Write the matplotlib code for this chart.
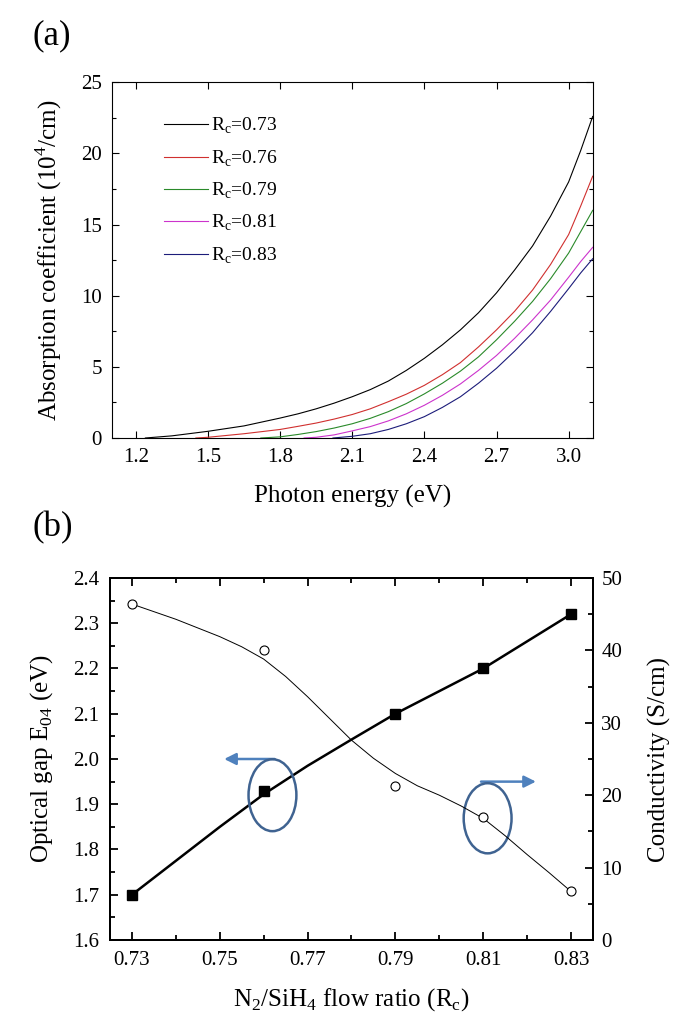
import matplotlib
matplotlib.use("Agg")
import matplotlib.pyplot as plt
from matplotlib.patches import Ellipse
from matplotlib.ticker import MultipleLocator
import numpy as np

plt.rcParams['font.family'] = ['Liberation Serif', 'DejaVu Serif']
plt.rcParams['mathtext.fontset'] = 'custom'
plt.rcParams['mathtext.rm'] = 'Liberation Serif'

# (a) absorption spectra
e_073 = [1.24, 1.35, 1.5, 1.65, 1.8, 1.875, 1.95, 2.025, 2.1, 2.175, 2.25, 2.325, 2.4,
         2.475, 2.55, 2.625, 2.7, 2.775, 2.85, 2.925, 3.0, 3.05, 3.1]
a_073 = [0, 0.15, 0.47, 0.85, 1.4, 1.7, 2.05, 2.45, 2.9, 3.4, 4.0, 4.75, 5.6,
         6.55, 7.6, 8.8, 10.2, 11.8, 13.5, 15.6, 18.0, 20.2, 22.6]
e_076 = [1.45, 1.5, 1.65, 1.8, 1.875, 1.95, 2.025, 2.1, 2.175, 2.25, 2.325, 2.4,
         2.475, 2.55, 2.625, 2.7, 2.775, 2.85, 2.925, 3.0, 3.05, 3.1]
a_076 = [0, 0.05, 0.3, 0.6, 0.82, 1.05, 1.33, 1.65, 2.05, 2.55, 3.08, 3.7,
         4.45, 5.3, 6.4, 7.6, 8.9, 10.4, 12.2, 14.3, 16.3, 18.4]
e_079 = [1.72, 1.8, 1.875, 1.95, 2.025, 2.1, 2.175, 2.25, 2.325, 2.4, 2.475, 2.55,
         2.625, 2.7, 2.775, 2.85, 2.925, 3.0, 3.05, 3.1]
a_079 = [0, 0.08, 0.25, 0.45, 0.7, 1.0, 1.38, 1.85, 2.42, 3.1, 3.85, 4.7,
         5.7, 6.9, 8.2, 9.6, 11.2, 13.0, 14.5, 16.0]
e_081 = [1.9, 1.95, 2.025, 2.1, 2.175, 2.25, 2.325, 2.4, 2.475, 2.55, 2.625, 2.7,
         2.775, 2.85, 2.925, 3.0, 3.05, 3.1]
a_081 = [0, 0.05, 0.22, 0.5, 0.8, 1.2, 1.7, 2.3, 3.0, 3.8, 4.75, 5.8,
         7.0, 8.3, 9.7, 11.3, 12.4, 13.4]
e_083 = [2.02, 2.1, 2.175, 2.25, 2.325, 2.4, 2.475, 2.55, 2.625, 2.7, 2.775, 2.85,
         2.925, 3.0, 3.05, 3.1]
a_083 = [0, 0.12, 0.3, 0.6, 1.0, 1.5, 2.15, 2.9, 3.85, 4.9, 6.1, 7.4,
         8.9, 10.5, 11.6, 12.6]
energies = [e_073, e_076, e_079, e_081, e_083]
spectra = [a_073, a_076, a_079, a_081, a_083]
labels_a = ['0.73', '0.76', '0.79', '0.81', '0.83']
colors_a = ['black', '#d0302f', '#2a8a2a', '#cc33cc', '#1c1c7a']

# (b) optical gap and conductivity vs flow ratio
ratio = [0.73, 0.76, 0.79, 0.81, 0.83]
gap = [1.70, 1.93, 2.10, 2.20, 2.32]
cond = [46.4, 40.0, 21.3, 17.0, 6.7]
# fit curves as drawn in the figure
gap_fit_x = [0.73, 0.74, 0.75, 0.76, 0.77, 0.78, 0.79, 0.80, 0.81, 0.82, 0.83]
gap_fit = [1.70, 1.775, 1.85, 1.922, 1.985, 2.043, 2.10, 2.15, 2.20, 2.26, 2.32]
cond_fit_x = [0.73, 0.74, 0.75, 0.755, 0.76, 0.765, 0.77, 0.775, 0.78, 0.785, 0.79,
              0.795, 0.80, 0.805, 0.81, 0.815, 0.82, 0.825, 0.83]
cond_fit = [46.4, 44.3, 41.9, 40.5, 38.8, 36.4, 33.6, 30.6, 27.6, 25.1, 23.0,
            21.3, 20.0, 18.5, 16.8, 14.4, 11.8, 9.3, 6.7]

W, H = 685, 1024
fig = plt.figure(figsize=(W / 100, H / 100), dpi=100)

# ---------- panel (a)
ax1 = fig.add_axes([111.7 / W, 1 - 438 / H, 481 / W, 355.7 / H])
for xs, ys, lab, c in zip(energies, spectra, labels_a, colors_a):
    ax1.plot(xs, ys, color=c, lw=0.8, label=r'R$_\mathregular{c}$=' + lab)

ax1.set_xlim(1.1, 3.1)
ax1.set_ylim(0, 25)
ax1.set_xticks(np.arange(1.2, 3.01, 0.3))
ax1.set_xticklabels(['1.2', '1.5', '1.8', '2.1', '2.4', '2.7', '3.0'])
ax1.yaxis.set_major_locator(MultipleLocator(5))
ax1.yaxis.set_minor_locator(MultipleLocator(2.5))
ax1.tick_params(which='both', direction='in', top=True, right=True, width=0.8,
                labelsize=15, pad=7)
ax1.tick_params(which='major', length=5)
ax1.tick_params(which='minor', length=3)
for s in ax1.spines.values():
    s.set_linewidth(0.8)
ax1.set_xlabel('Photon energy (eV)', fontsize=18)
ax1.xaxis.set_label_coords(0.5, -0.132)
ax1.set_ylabel(r'Absorption coefficient (10$^\mathregular{4}$/cm)', fontsize=18)
ax1.yaxis.set_label_coords(-0.100, 0.5)
ax1.legend(loc='upper left', bbox_to_anchor=(0.108, 0.905), frameon=False,
           fontsize=14, handlelength=2.3, handletextpad=0.15, labelspacing=0.62,
           borderpad=0, borderaxespad=0)

# ---------- panel (b)
ax2 = fig.add_axes([110 / W, 1 - 940 / H, 483 / W, 362 / H])
ax3 = ax2.twinx()
ax2.plot(gap_fit_x, gap_fit, color='black', lw=1.8, zorder=2)
ax2.plot(ratio, gap, 's', color='black', ms=7.5, zorder=3)
ax3.plot(cond_fit_x, cond_fit, color='black', lw=0.7)
ax3.plot(ratio, cond, 'o', mfc='white', mec='black', mew=0.8, ms=6.5)

ax2.set_xlim(0.725, 0.835)
ax2.set_ylim(1.6, 2.4)
ax3.set_ylim(0, 50)
ax2.set_xticks([0.73, 0.75, 0.77, 0.79, 0.81, 0.83])
ax2.set_xticklabels(['0.73', '0.75', '0.77', '0.79', '0.81', '0.83'])
ax2.xaxis.set_minor_locator(MultipleLocator(0.01))
ax2.yaxis.set_major_locator(MultipleLocator(0.1))
ax2.yaxis.set_minor_locator(MultipleLocator(0.05))
ax3.yaxis.set_major_locator(MultipleLocator(10))
ax3.yaxis.set_minor_locator(MultipleLocator(5))
ax2.tick_params(which='both', direction='in', top=True, width=1.3,
                labelsize=15, pad=8)
ax2.tick_params(axis='y', which='both', right=False)
ax3.tick_params(which='both', direction='in', width=1.3, labelsize=15, pad=6)
for a in (ax2, ax3):
    a.tick_params(which='major', length=6)
    a.tick_params(which='minor', length=3.5)
    for s in a.spines.values():
        s.set_linewidth(1.4)

ax2.set_xlabel(r'N$_\mathregular{2}$/SiH$_\mathregular{4}$ flow ratio (R$_\mathregular{c}$)',
               fontsize=18)
ax2.xaxis.set_label_coords(0.5, -0.127)
ax2.set_ylabel(r'Optical gap E$_\mathregular{04}$ (eV)', fontsize=18)
ax2.yaxis.set_label_coords(-0.114, 0.5)
ax3.set_ylabel('Conductivity (S/cm)', fontsize=18)
ax3.yaxis.set_label_coords(1.113, 0.5)

# guide ellipses and arrows
edge_c = '#3f6391'
arrow_c = '#4f81bd'
ax2.add_patch(Ellipse((0.762, 1.92), 0.0109, 0.159, fill=False, ec=edge_c, lw=1.8, zorder=4))
ax2.add_patch(Ellipse((0.811, 1.869), 0.0109, 0.155, fill=False, ec=edge_c, lw=1.8, zorder=4))
ax2.annotate('', xy=(0.7510, 2.0), xytext=(0.7625, 2.0),
             arrowprops=dict(arrowstyle='-|>,head_length=0.7,head_width=0.35',
                             color=arrow_c, lw=1.8, shrinkA=0, shrinkB=0))
ax2.annotate('', xy=(0.8220, 1.95), xytext=(0.8095, 1.95),
             arrowprops=dict(arrowstyle='-|>,head_length=0.7,head_width=0.35',
                             color=arrow_c, lw=1.8, shrinkA=0, shrinkB=0))

fig.text(33 / W, 1 - 36 / H, '(a)', fontsize=25, va='center', ha='left')
fig.text(33 / W, 1 - 528 / H, '(b)', fontsize=25, va='center', ha='left')

fig.savefig('out.png', dpi=100)
